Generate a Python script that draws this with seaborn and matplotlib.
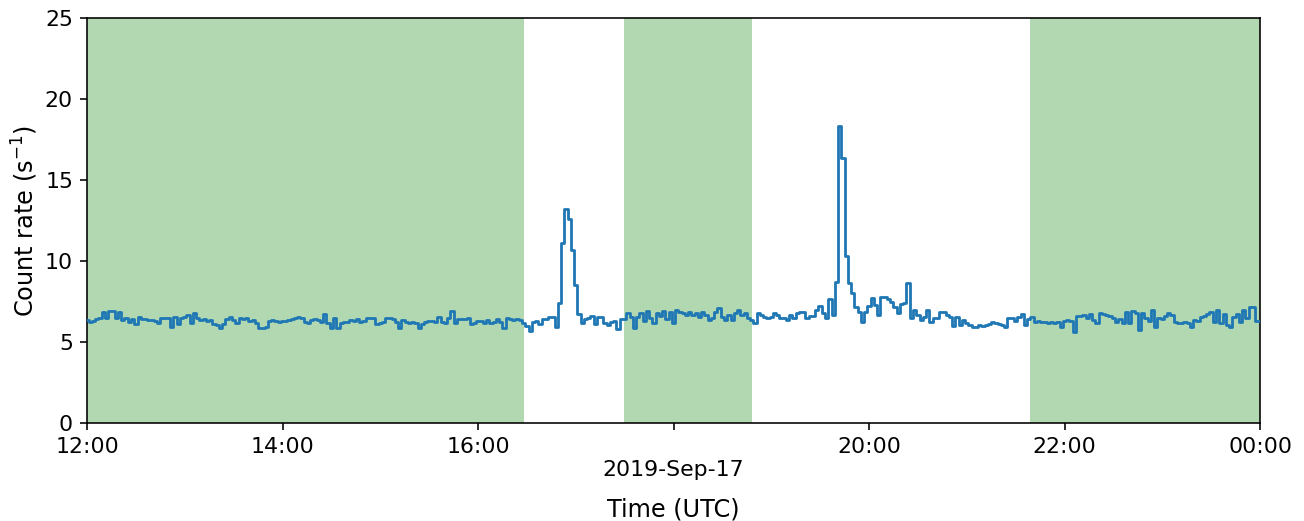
import numpy as np
import pandas as pd
import matplotlib
matplotlib.use("Agg")
import matplotlib.pyplot as plt
import seaborn as sns

# ---------------- data (2-minute bins, 12:00 -> 00:00) ----------------
start_time = "2019-09-17 12:00"
end_time = "2019-09-18 00:00"
bin_minutes = 2

rate_a = [6.36, 6.26, 6.30, 6.42, 6.50, 6.83, 6.46, 6.91, 6.91, 6.46,
          6.87, 6.36, 6.46, 6.26, 6.42, 6.09, 6.56, 6.42, 6.42, 6.36,
          6.36, 6.30, 6.15, 6.46, 6.50, 6.46, 5.95, 6.56, 6.09, 6.46,
          6.56, 6.67, 6.15, 6.77, 6.46, 6.36, 6.42, 6.30, 6.36, 6.09,
          6.05, 5.84, 6.09, 6.42, 6.56, 6.36, 6.15, 6.46, 6.42, 6.46,
          6.30, 6.36, 6.15, 5.84, 5.88, 5.95, 6.30, 6.36, 6.30, 6.26,
          6.30]
rate_b = [6.30, 6.36, 6.42, 6.46, 6.56, 6.46, 6.26, 6.15, 6.36, 6.42,
          6.36, 6.22, 6.71, 6.15, 5.84, 6.46, 5.84, 6.15, 6.26, 6.26,
          6.36, 6.30, 6.42, 6.26, 6.30, 6.50, 6.46, 6.50, 6.09, 6.15,
          6.26, 6.50, 6.50, 6.42, 6.22, 5.84, 6.36, 6.26, 6.15, 6.26,
          6.15, 5.88, 6.10, 6.26, 6.30, 6.30, 6.26, 6.56, 6.26, 6.15,
          6.50, 6.91, 6.15, 6.42, 6.42, 6.42, 6.50, 6.09, 6.15, 6.30]
rate_c = [6.30, 6.15, 6.36, 6.15, 6.26, 6.42, 6.26, 5.88, 6.46, 6.42,
          6.36, 6.42, 6.36, 6.15, 6.00, 5.70, 6.25, 6.32, 6.10, 6.40,
          6.40, 6.52, 6.52]
rate_flare1 = [5.90, 7.38, 11.10, 13.20, 12.57, 10.70, 8.50, 6.70, 6.15, 6.40,
               6.46, 6.63, 6.10, 6.56, 6.56, 6.15, 6.05, 6.25, 6.30, 5.78,
               6.40, 6.40, 6.77, 6.56, 5.84, 6.56]
rate_e = [6.80, 6.30, 6.90, 6.50, 6.20, 6.80, 6.60, 6.90, 6.40]
rate_f = [6.87, 6.15, 6.98, 6.87, 6.77, 6.67, 6.87, 6.67, 6.77, 6.56,
          6.87, 6.67, 6.36, 6.46, 6.87, 7.08, 6.56, 6.36, 6.67, 6.36,
          6.77, 6.98, 6.67, 6.77, 6.46, 6.36, 6.15, 6.77, 6.67, 6.56,
          6.46, 6.56, 6.77, 6.67, 6.46, 6.46, 6.36, 6.67, 6.46, 6.77]
rate_flare2 = [6.83, 6.83, 6.46, 6.60, 6.60, 6.98, 7.22, 6.77, 6.46, 7.63,
               6.66, 8.72, 18.35, 16.33, 10.33, 8.62, 8.04, 7.18, 6.87, 6.25,
               6.87, 7.20, 7.69, 7.28, 6.66, 7.80, 7.80, 7.63, 7.49, 7.18,
               6.77, 7.33, 7.43, 8.66, 6.46, 6.98, 6.66, 6.36, 6.56, 6.98]
rate_h = [6.26, 6.46, 6.46, 6.87, 6.87, 6.67, 6.56, 6.00, 6.56, 6.05,
          6.36, 6.15, 6.05, 5.95, 5.90, 6.05, 6.00, 6.05, 6.09, 6.21,
          6.15, 6.09, 6.05, 5.95, 6.50, 6.50, 6.30, 6.56, 6.70, 6.05,
          6.42, 6.56, 6.26, 6.30, 6.26, 6.26, 6.15, 6.26, 6.15, 6.26,
          5.95, 6.30, 6.36]
rate_i = [6.32, 5.60, 6.60, 6.60, 6.67, 6.50, 6.72, 6.36, 6.15, 6.80,
          6.72, 6.67, 6.60, 6.46, 6.25, 6.40, 6.15, 6.87, 6.15, 6.92,
          6.77, 5.75, 6.80, 6.46, 6.32, 6.95, 5.95, 6.46, 6.40, 6.60,
          6.77, 6.67, 6.25, 6.20, 6.15, 6.25, 6.15, 5.95, 6.36, 6.32,
          6.56, 6.60, 6.72, 6.87, 6.25, 6.95, 6.15, 6.72, 6.05, 5.95,
          6.56, 6.72, 6.25, 6.95, 6.46, 7.18, 7.18, 6.30, 6.30]

# shaded intervals (start, end)
span_starts = ["2019-09-17 12:00", "2019-09-17 17:29:40", "2019-09-17 21:38:50"]
span_ends = ["2019-09-17 16:28:20", "2019-09-17 18:48:20", "2019-09-18 00:00"]

tick_times = ["2019-09-17 12:00", "2019-09-17 14:00", "2019-09-17 16:00",
              "2019-09-17 18:00", "2019-09-17 20:00", "2019-09-17 22:00",
              "2019-09-18 00:00"]
tick_labels = ["12:00", "14:00", "16:00", "", "20:00", "22:00", "00:00"]
date_label = "2019-Sep-17"
date_label_time = "2019-09-17 18:00"
y_ticks = [0, 5, 10, 15, 20, 25]

# ---------------- build table ----------------
rate = np.concatenate([rate_a, rate_b, rate_c, rate_flare1, rate_e,
                       rate_f, rate_flare2, rate_h, rate_i])
times = pd.Timestamp(start_time) + pd.to_timedelta(np.arange(len(rate)) * bin_minutes, unit="min")
df = pd.DataFrame({"time": times, "rate": rate})

# ---------------- style ----------------
sns.set_style("ticks", rc={
    "axes.edgecolor": "black",
    "text.color": "black",
    "axes.labelcolor": "black",
    "xtick.color": "black",
    "ytick.color": "black",
})
plt.rcParams.update({
    "font.family": ["DejaVu Sans"],
    "font.size": 11,
    "axes.linewidth": 0.8,
    "xtick.major.size": 3.5,
    "ytick.major.size": 3.5,
    "xtick.major.width": 0.8,
    "ytick.major.width": 0.8,
    "xtick.labelsize": 11,
    "ytick.labelsize": 11,
    "axes.labelsize": 12,
})

dpi = 144
fig = plt.figure(figsize=(1304 / dpi, 521 / dpi), dpi=dpi)
ax = fig.add_axes([87 / 1304, 1 - 423 / 521, (1260 - 87) / 1304, (423 - 18) / 521])

for s, e in zip(span_starts, span_ends):
    ax.axvspan(pd.Timestamp(s), pd.Timestamp(e), color="green", alpha=0.3, lw=0, zorder=0)

sns.lineplot(data=df, x="time", y="rate", ax=ax, estimator=None,
             drawstyle="steps-mid", color="#1f77b4", linewidth=1.4, zorder=3)

ax.set_xlim(pd.Timestamp(start_time), pd.Timestamp(end_time))
ax.set_ylim(0, 25)
ax.set_yticks(y_ticks)
ax.set_xticks([pd.Timestamp(t) for t in tick_times])
ax.set_xticklabels(tick_labels)
for side in ["top", "right", "left", "bottom"]:
    ax.spines[side].set_visible(True)
    ax.spines[side].set_color("black")
ax.tick_params(top=False, right=False, direction="out")

ax.text(pd.Timestamp(date_label_time), (423 - 470) / 405, date_label,
        transform=ax.get_xaxis_transform(), ha="center", va="center", fontsize=11)

ax.set_xlabel("Time (UTC)")
ax.set_ylabel("Count rate (s$^{-1}$)")
ax.xaxis.set_label_coords(0.5, (423 - 509) / 405)
ax.yaxis.set_label_coords((25 - 87) / 1173, 0.5)
ax.xaxis.label.set_va("center")
ax.yaxis.label.set_va("center")

fig.savefig("out.png", dpi=dpi)
